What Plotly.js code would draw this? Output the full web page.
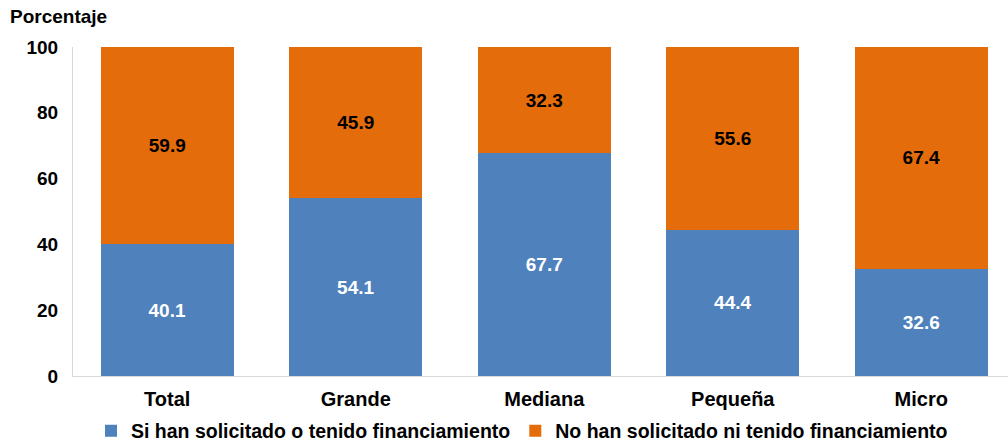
<!DOCTYPE html>
<html>
<head>
<meta charset="utf-8">
<script src="https://cdn.plot.ly/plotly-3.0.1.min.js"></script>
<style>html,body{margin:0;padding:0;background:#fff;}#chart{width:1008px;height:444px;}</style>
</head>
<body>
<div id="chart"></div>
<script>
const categories = ["Total", "Grande", "Mediana", "Pequeña", "Micro"];
const siValues = [40.1, 54.1, 67.7, 44.4, 32.6];
const noValues = [59.9, 45.9, 32.3, 55.6, 67.4];
const seriesNames = ["Si han solicitado o tenido financiamiento", "No han solicitado ni tenido financiamiento"];
const yTicks = [0, 20, 40, 60, 80, 100];

const F = "Liberation Sans, Arial, sans-serif";
const traces = [
  {
    type: "bar", x: categories, y: siValues, name: seriesNames[0],
    marker: {color: "#4F81BD"},
    text: siValues.map(v => v.toFixed(1)), textposition: "inside", insidetextanchor: "middle", textangle: 0,
    textfont: {family: F, size: 19, color: "#ffffff", weight: "bold"},
    hoverinfo: "none"
  },
  {
    type: "bar", x: categories, y: noValues, name: seriesNames[1],
    marker: {color: "#E46C0A"},
    text: noValues.map(v => v.toFixed(1)), textposition: "inside", insidetextanchor: "middle", textangle: 0,
    textfont: {family: F, size: 19, color: "#000000", weight: "bold"},
    hoverinfo: "none"
  }
];

const layout = {
  width: 1008, height: 444,
  margin: {l: 73, r: 0, t: 47, b: 68, autoexpand: false},
  barmode: "stack",
  bargap: 0.295,
  paper_bgcolor: "#ffffff", plot_bgcolor: "#ffffff",
  font: {family: F, size: 19, color: "#000000", weight: "bold"},
  title: {text: "Porcentaje", xref: "container", yref: "container", x: 10/1008, xanchor: "left", y: 1 - 16/444, yanchor: "middle",
          font: {family: F, size: 19, color: "#000000", weight: "bold"}},
  xaxis: {
    range: [-0.5, 4.46], showgrid: false, zeroline: false, automargin: false, tickangle: 0,
    showline: true, linecolor: "#d9d9d9", linewidth: 1, ticklabelstandoff: 5,
    ticks: "", tickfont: {family: F, size: 20, color: "#000000", weight: "bold"}, fixedrange: true
  },
  yaxis: {
    range: [0, 100], tickvals: yTicks, ticktext: yTicks.map(String), automargin: false,
    showgrid: false, zeroline: false, showline: true, linecolor: "#d9d9d9", linewidth: 1,
    ticks: "", ticklabelstandoff: 10, tickfont: {family: F, size: 19, color: "#000000", weight: "bold"}, fixedrange: true
  },
  showlegend: true,
  legend: {orientation: "h", xref: "paper", x: (522-73)/935, xanchor: "center", yref: "paper", y: -55/329, yanchor: "middle",
           font: {family: F, size: 19.5, color: "#000000", weight: "bold"}, traceorder: "normal", itemwidth: 30},
};

Plotly.newPlot("chart", traces, layout, {displayModeBar: false, staticPlot: true});
</script>
</body>
</html>
